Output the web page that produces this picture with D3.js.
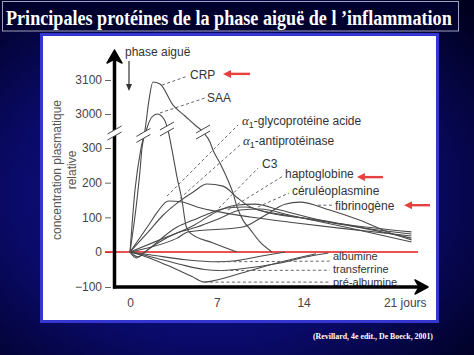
<!DOCTYPE html>
<html><head><meta charset="utf-8">
<script src="https://cdn.jsdelivr.net/npm/d3@7"></script>
<style>html,body{margin:0;padding:0;background:#000030;overflow:hidden}</style>
</head><body>
<svg id="c" width="474" height="355"></svg>
<script>
// ---------- data ----------
const titleText = "Principales protéines de la phase aiguë de l \u2019inflammation";
const sourceText = "(Revillard, 4e edit., De Boeck, 2001)";
const yTicks = [-100, 0, 100, 200, 300, 3000, 3100];
const xTicks = [0, 7, 14, 21];
const xTickLabels = ["0", "7", "14", "21 jours"];
const yTitle = ["concentration plasmatique", "relative"];

// series: [day, relative concentration]
const crp = [[0,0],[0.4,178],[0.89,300],[1.21,1729],[1.53,3041],[1.85,3094],[2.42,3088],[3.47,3026],[4.44,2841],[5.24,2126],[5.89,1570],[6.45,776],[6.69,294],[7.26,256],[7.9,207],[8.31,170],[8.63,130],[9.11,92],[9.68,66],[10.48,29],[11.45,0]];
const saa = [[0,0],[0.56,150],[0.81,236],[0.97,300],[1.37,1888],[1.77,2762],[2.2,3000],[2.74,2603],[3.06,1729],[3.39,294],[3.79,216],[4.19,150],[4.52,75],[4.84,55],[6.7,26],[8.63,0]];
const glyco = [[0,0],[1.6,83],[2.2,115],[3.1,147],[4.2,144],[5.4,130],[7.3,115],[9.7,101],[12.9,86],[16.9,69],[22.7,46]];
const haptoglobine = [[0,0],[1.4,55],[2.66,106],[3.8,141],[5.1,173],[6.2,196],[7.5,190],[8.6,158],[9.7,130],[12.9,104],[17.7,78],[22.7,58]];
const antiproteinase = [[0,0],[0.5,-17],[1.2,0],[3.8,72],[5.1,92],[6.45,112],[7.8,127],[9.3,130],[11.3,112],[15.3,92],[22.7,40]];
const c3 = [[0,0],[0.65,-14],[1.4,6],[3.8,55],[5.4,72],[7.3,98],[8.9,121],[10.5,124],[12.9,106],[17.7,69],[22.7,29]];
const fibrinogene = [[0,0],[1,8],[3.8,40],[4.7,58],[9.1,72],[10.9,106],[12.5,138],[13.7,144],[16.1,121],[18.5,92],[21,55],[22.7,35]];
const ceruleoplasmine = [[0,0],[2.4,35],[5.2,78],[6.9,115],[8.5,135],[10.1,138],[12.1,121],[16.1,86],[22.7,52]];
const albumine = [[0,0],[2,-10],[4.5,-22],[7,-28],[8.5,-25],[10.5,-12],[12.5,0]];
const transferrine = [[0,0],[1.5,-12],[4,-35],[6,-50],[7.2,-53],[9,-48],[12,-32],[14.5,-12],[16,-3]];
const prealbumine = [[0,0],[1,-10],[3,-38],[5,-70],[6,-86],[7,-80],[9,-60],[12,-30],[15,-5]];
const allSeries = [crp, saa, glyco, haptoglobine, antiproteinase, c3, fibrinogene, ceruleoplasmine, albumine, transferrine, prealbumine];

// annotation labels: name, leader start, leader end, label anchor (data coords)
const labelNames = ["CRP","SAA","α|1|-glycoprotéine acide","α|1|-antiprotéinase","C3","haptoglobine","céruléoplasmine","fibrinogène","albumine","transferrine","pré-albumine"];
const leaderFrom = [[2.58,3085],[2.42,3003],[2.98,161],[4.03,155],[6.85,115],[7.9,121],[10.32,130],[15.16,135],[7,-28],[7.2,-53],[6,-86]];
const leaderTo   = [[4.68,3112],[6.05,3047],[8.71,2126],[8.87,538],[10.32,242],[12.34,219],[12.82,170],[16.29,135],[16.1,-26],[16.1,-52],[16.1,-86]];
const labelAt    = [[4.84,3115],[6.21,3047],[9.03,2444],[9.11,856],[10.65,253],[12.5,227],[13.06,176],[16.53,132],[16.37,-13],[16.37,-48],[16.37,-85]];
const labelSize  = [12,12,12,12,12,12,12,12,11,11,11];
// break marks on curves
const breakMarks = [[1.08,1300],[2.98,1809],[5.89,1570]];
// red highlight arrows [from, to]
const redArrows = [[[9.68,3118],[7.5,3118]], [[20.4,216],[18.3,216]], [[24.19,135],[22.1,135]]];

// ---------- drawing ----------
const svg = d3.select("#c");
const defs = svg.append("defs");
const bg = defs.append("radialGradient").attr("id","bg").attr("cx","45%").attr("cy","55%").attr("r","75%");
bg.append("stop").attr("offset","0%").attr("stop-color","#1c1ca0");
bg.append("stop").attr("offset","55%").attr("stop-color","#0a0a6a");
bg.append("stop").attr("offset","100%").attr("stop-color","#00001e");
svg.append("rect").attr("width",474).attr("height",355).attr("fill","url(#bg)");

// title
svg.append("rect").attr("x",2.5).attr("y",1.5).attr("width",456).attr("height",29.5)
  .attr("fill","#00002e").attr("stroke","#a0a0c0").attr("stroke-width",1);
const title = svg.append("text").text(titleText)
  .attr("fill","#fff").attr("font-family","'Liberation Serif','Times New Roman',serif")
  .attr("font-weight","bold").attr("font-size",20);
const tw = title.node().getComputedTextLength();
title.attr("transform",`translate(6,25) scale(${Math.min(1,446/tw)},1)`);

// panel
svg.append("rect").attr("x",41.5).attr("y",34.5).attr("width",396).attr("height",287)
  .attr("fill","#fff").attr("stroke","#3535d0").attr("stroke-width",3);

// source
const src = svg.append("text").text(sourceText)
  .attr("fill","#fff").attr("font-family","'Liberation Serif','Times New Roman',serif")
  .attr("font-weight","bold").attr("font-size",8.5);
const sw = src.node().getComputedTextLength();
src.attr("transform",`translate(313,339) scale(${120/sw},1)`);

const x = d3.scaleLinear().domain([0,21]).range([130,390.4]);
const y = d3.scaleLinear().domain([-100,0,300,3000,3100]).range([287,252,148,114,80]);

const font = "'Liberation Sans',Arial,sans-serif";

// y axis ticks
const gy = svg.append("g").attr("transform","translate(111,0)")
  .call(d3.axisLeft(y).tickValues(yTicks).tickSize(6).tickPadding(3).tickFormat(d3.format("d")));
gy.select(".domain").remove();
gy.selectAll("line").attr("stroke","#666");
gy.selectAll("text").attr("font-family",font).attr("font-size",12).attr("fill","#444");

// x axis ticks
const gx = svg.append("g").attr("transform","translate(0,287)")
  .call(d3.axisBottom(x).tickValues(xTicks).tickSize(0).tickPadding(11).tickFormat((d,i)=>xTickLabels[i]));
gx.select(".domain").remove();
gx.selectAll("text").attr("font-family",font).attr("font-size",12).attr("fill","#444")
  .filter((d,i)=>i===xTicks.length-1).attr("text-anchor","start").attr("dx",-7);

// y title
yTitle.forEach((t,i)=>{
  svg.append("text").attr("transform",`translate(${57+i*15},170) rotate(-90)`)
    .attr("text-anchor","middle").attr("dy","0.35em").text(t)
    .attr("font-family",font).attr("font-size",12).attr("fill","#555");
});

// red zero line
svg.append("line").attr("x1",105).attr("x2",418).attr("y1",y(0)).attr("y2",y(0))
  .attr("stroke","#e01818").attr("stroke-width",1.6);

// curves
const line = d3.line().x(d=>x(d[0])).y(d=>y(d[1])).curve(d3.curveMonotoneX);
svg.append("g").selectAll("path").data(allSeries).join("path")
  .attr("d",line).attr("fill","none").attr("stroke","#4a4a4a").attr("stroke-width",1.1);

// break marks
function brk(cx, cy){
  const g = svg.append("g");
  g.append("path").attr("d",`M${cx-7},${cy+1} L${cx+7},${cy-7} L${cx+7},${cy-1} L${cx-7},${cy+7} Z`).attr("fill","#fff");
  g.append("line").attr("x1",cx-7).attr("y1",cy+1).attr("x2",cx+7).attr("y2",cy-7).attr("stroke","#444").attr("stroke-width",1);
  g.append("line").attr("x1",cx-7).attr("y1",cy+7).attr("x2",cx+7).attr("y2",cy-1).attr("stroke","#444").attr("stroke-width",1);
}
breakMarks.forEach(b=>brk(x(b[0]), y(b[1])));

// leaders + labels
labelNames.forEach((n,i)=>{
  svg.append("line").attr("x1",x(leaderFrom[i][0])).attr("y1",y(leaderFrom[i][1]))
    .attr("x2",x(leaderTo[i][0])).attr("y2",y(leaderTo[i][1]))
    .attr("stroke","#666").attr("stroke-width",1).attr("stroke-dasharray","3,2.5");
  const t = svg.append("text").attr("x",x(labelAt[i][0])).attr("y",y(labelAt[i][1]))
    .attr("dy","0.35em").attr("font-family",font).attr("font-size",labelSize[i]).attr("fill","#333");
  const parts = n.split("|");
  if(parts.length===3){
    t.append("tspan").text(parts[0]).attr("font-family","'Liberation Serif',serif").attr("font-style","italic").attr("font-size",13);
    t.append("tspan").text(parts[1]).attr("font-size",9).attr("dy",3);
    t.append("tspan").text(parts[2]).attr("dy",-3);
  } else t.text(n);
});

// axes (thick, with arrow heads)
const ax0 = x(0)-15.5;
svg.append("line").attr("x1",ax0).attr("x2",ax0).attr("y1",y(-100)+1.5).attr("y2",56)
  .attr("stroke","#000").attr("stroke-width",3.5);
svg.append("path").attr("d",`M${ax0-7.5},63 L${ax0},50 L${ax0+7.5},63 L${ax0},59 Z`).attr("fill","#000").attr("stroke","#000").attr("stroke-width",1.5).attr("stroke-linejoin","round");
svg.append("line").attr("x1",ax0-1.5).attr("x2",421).attr("y1",y(-100)).attr("y2",y(-100))
  .attr("stroke","#000").attr("stroke-width",3.5);
svg.append("path").attr("d",`M415,${y(-100)-7} L428,${y(-100)} L415,${y(-100)+7} L419,${y(-100)} Z`).attr("fill","#000").attr("stroke","#000").attr("stroke-width",1.5).attr("stroke-linejoin","round");
// axis break
brk(ax0, y(1491));

// phase aiguë
svg.append("text").attr("x",x(0)-5).attr("y",52).attr("dy","0.35em").text("phase aiguë")
  .attr("font-family",font).attr("font-size",12).attr("fill","#333");
svg.append("line").attr("x1",x(0)-1).attr("x2",x(0)-1).attr("y1",61).attr("y2",85).attr("stroke","#333").attr("stroke-width",1.2);
svg.append("path").attr("d",`M${x(0)-4},84 L${x(0)-1},91 L${x(0)+2},84 Z`).attr("fill","#333");

// red arrows
redArrows.forEach(a=>{
  const x1=x(a[0][0]), y1=y(a[0][1]), x2=x(a[1][0]), y2=y(a[1][1]);
  svg.append("line").attr("x1",x1).attr("y1",y1).attr("x2",x2+5).attr("y2",y2)
    .attr("stroke","#e8403f").attr("stroke-width",2.4);
  svg.append("path").attr("d",`M${x2},${y2} L${x2+8},${y2-4} L${x2+8},${y2+4} Z`).attr("fill","#e8403f");
});
</script>
</body></html>
